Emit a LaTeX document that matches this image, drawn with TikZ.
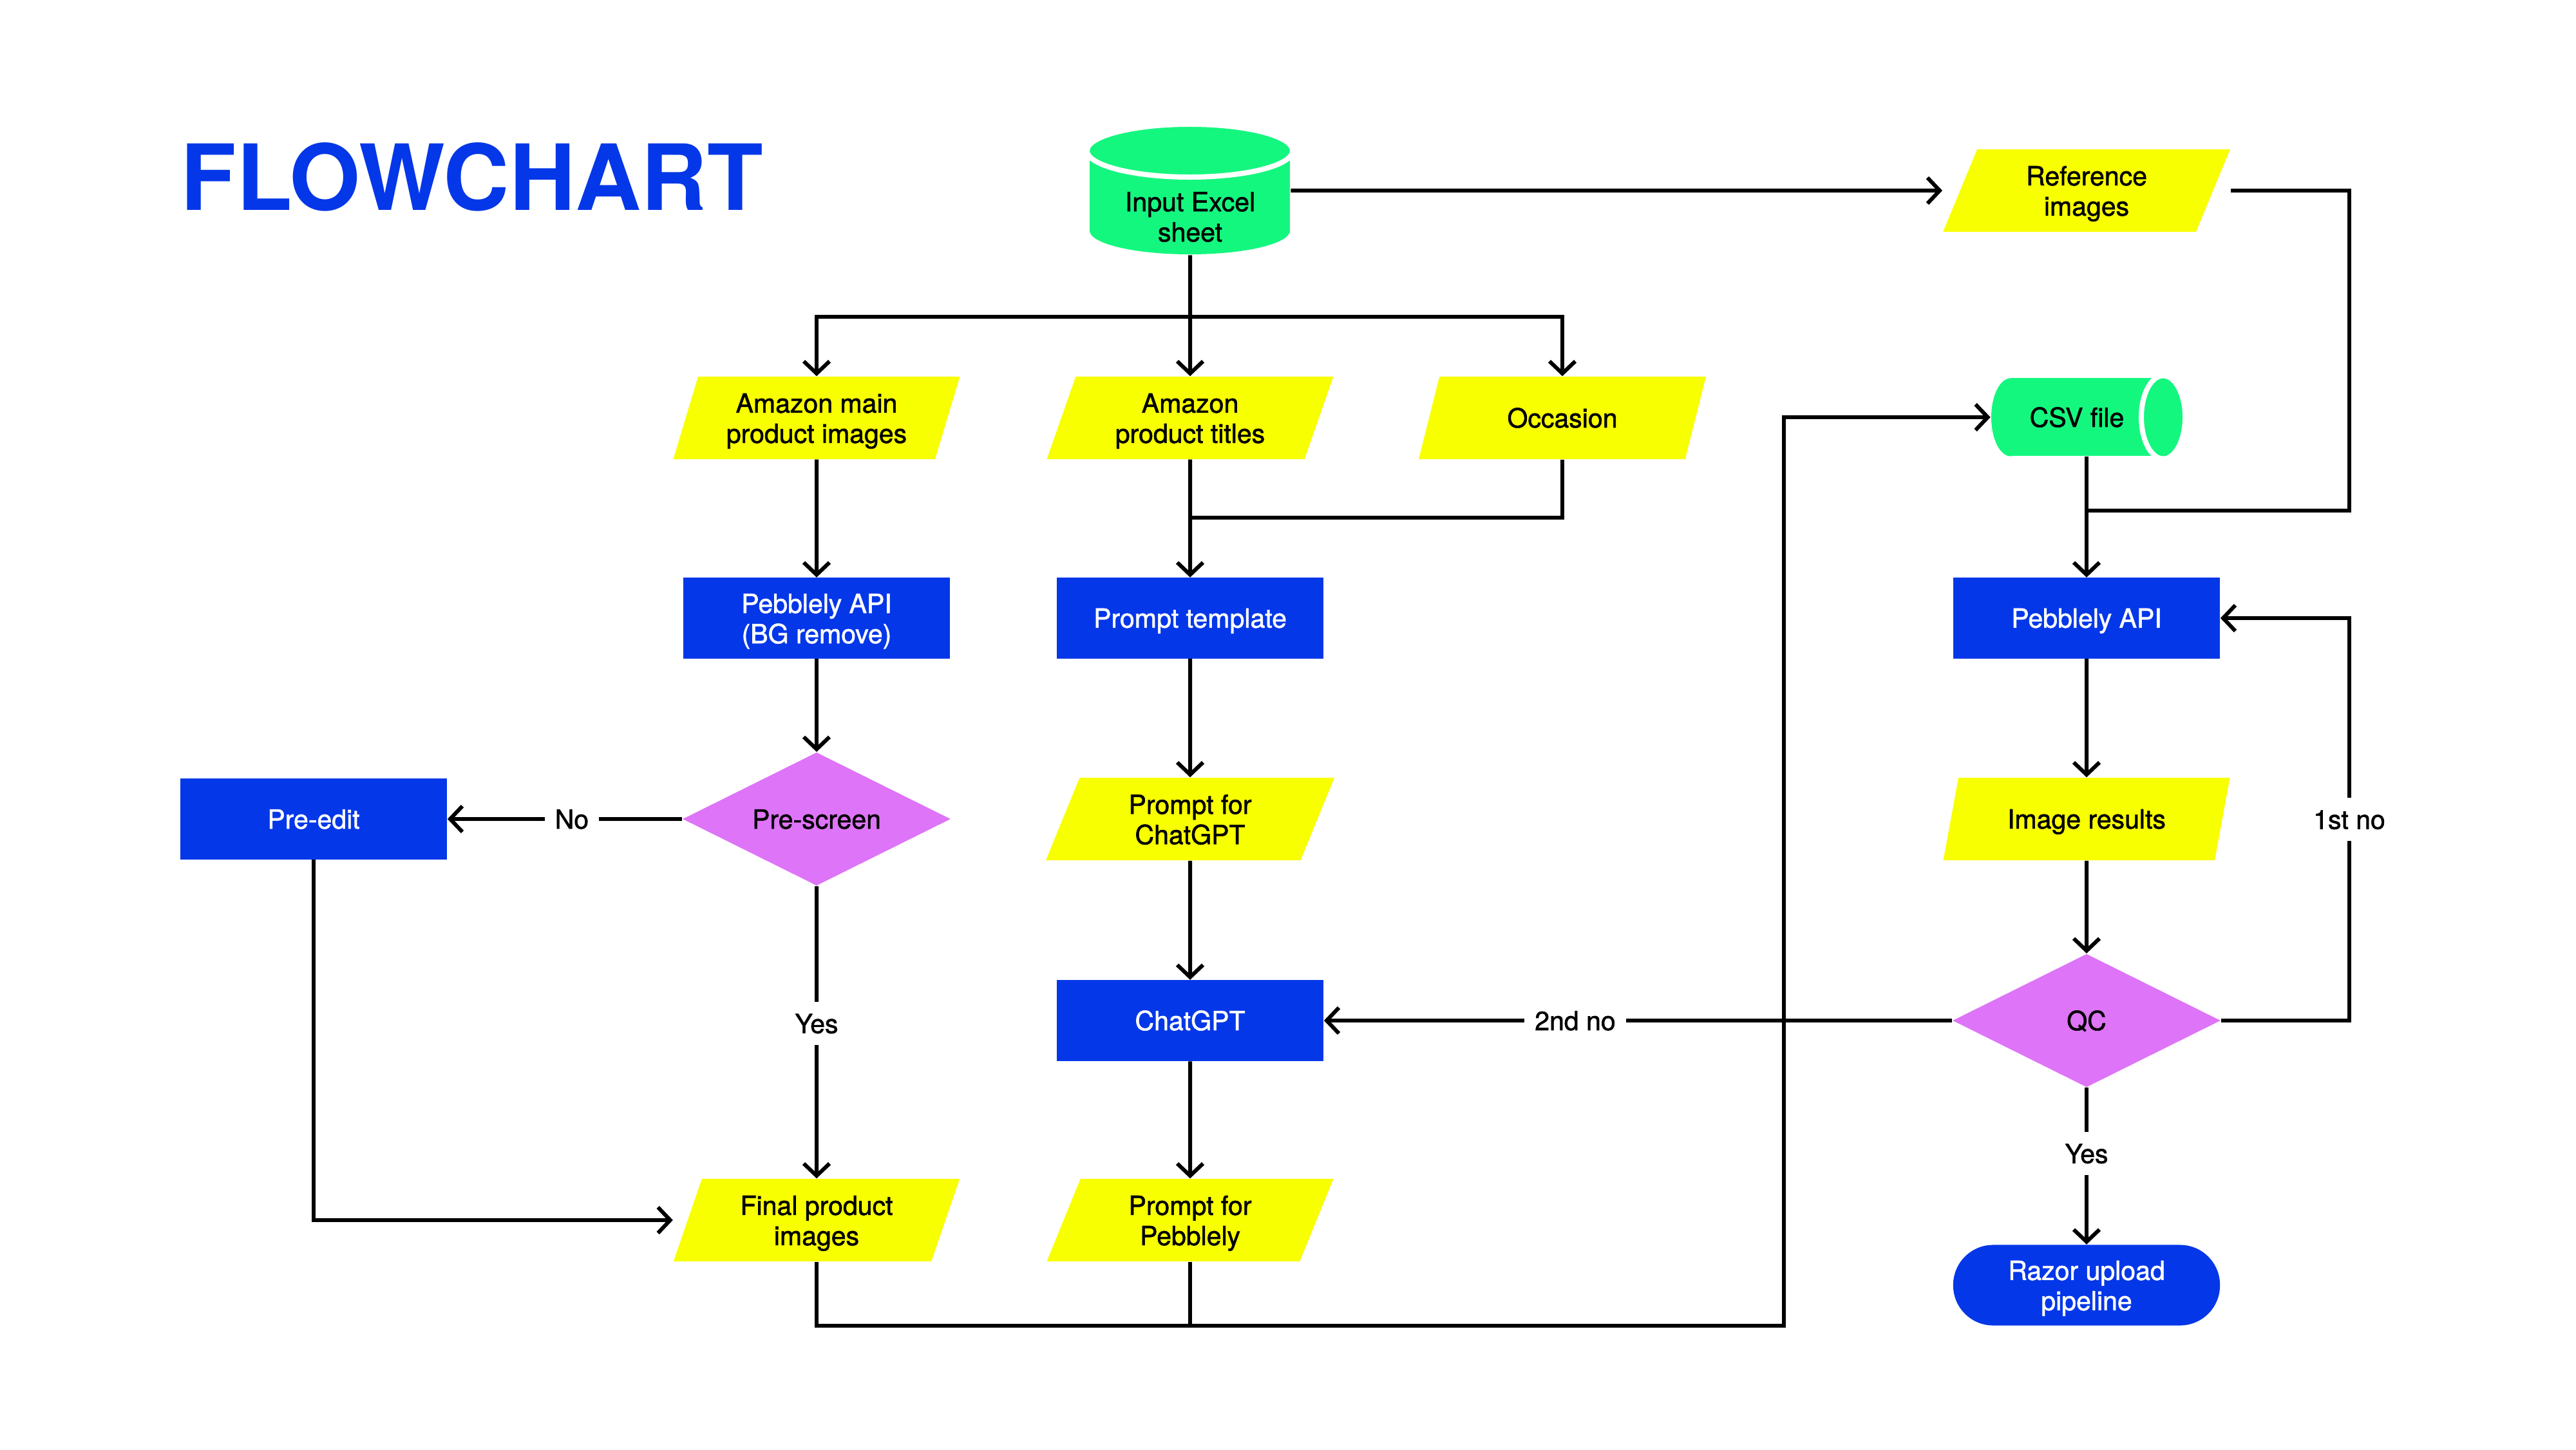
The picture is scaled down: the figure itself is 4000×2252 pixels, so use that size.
\documentclass[tikz,border=0pt]{standalone}
\usepackage{fontspec}
\setmainfont{TeX Gyre Heros}
\newfontfamily\medfont{TeX Gyre Heros}[FakeBold=1.4]
\usetikzlibrary{shapes.geometric,arrows.meta,backgrounds}
\definecolor{cblue}{HTML}{0437E8}
\definecolor{cgreen}{HTML}{14F77F}
\definecolor{cyell}{HTML}{F8FF00}
\definecolor{cpink}{HTML}{DE74F7}
\newcommand\fstrut{\rule[-0.21em]{0pt}{1.15em}}
\newcommand\mstrut{\rule{0pt}{0.97em}}
\tikzset{
  fbase/.style={font=\medfont\fontsize{11.67pt}{13.37pt}\selectfont, inner sep=0pt, align=center,
    execute at begin node=\fstrut},
  io/.style={fbase, trapezium, trapezium left angle=73, trapezium right angle=107,
    trapezium stretches=true, minimum width=4.48cm, minimum height=1.28cm, fill=cyell},
  proc/.style={fbase, rectangle, fill=cblue, text=white, minimum width=4.14cm, minimum height=1.25cm},
  decide/.style={fbase, diamond, aspect=2, fill=cpink, minimum width=4.16cm, minimum height=2.07cm},
  term/.style={proc, rounded corners=0.62cm},
  conn/.style={line width=0.06cm, -{Straight Barb[length=0.19cm,width=0.4cm]}},
  plain/.style={line width=0.06cm},
  lab/.style={fbase, fill=white, inner xsep=0.16cm, inner ysep=0.1cm},
}
\begin{document}
\begin{tikzpicture}[x=0.01cm,y=-0.01cm]
\useasboundingbox (0,0) rectangle (4000,2252);

% title
\node[anchor=base west, inner sep=0pt, text=cblue, font=\fontsize{40.3pt}{41pt}\selectfont\bfseries] (title) at (280,327) {FLOWCHART};

% nodes
\node[fbase, minimum width=3.11cm, minimum height=1.99cm] (excel) at (1848,296) {};
\node[fbase] (exceltxt) at (1848,341) {Input Excel\\sheet};
\node[io] (ref) at (3240,296) {\mstrut Reference\\images};
\node[io] (amain) at (1268,649) {\mstrut Amazon main\\product images};
\node[io] (atitles) at (1848,649) {\mstrut Amazon\\product titles};
\node[io] (occ) at (2426,649) {Occasion};
\node[fbase, minimum width=2.97cm, minimum height=1.21cm] (csv) at (3240,648) {CSV file\hspace{0.3cm}};
\node[proc] (pbg) at (1268,960) {\mstrut Pebblely API\\(BG remove)};
\node[proc] (ptpl) at (1848,960) {Prompt template};
\node[proc] (papi) at (3240,960) {Pebblely API};
\node[proc] (preedit) at (487,1272) {Pre-edit};
\node[decide] (prescreen) at (1268,1272) {Pre-screen};
\node[io] (pchat) at (1848,1272) {\mstrut Prompt for\\ChatGPT};
\node[io] (imgres) at (3240,1272) {Image results};
\node[proc] (chatgpt) at (1848,1585) {ChatGPT};
\node[decide] (qc) at (3240,1585) {QC};
\node[io] (final) at (1268,1895) {\mstrut Final product\\images};
\node[io] (ppeb) at (1848,1895) {\mstrut Prompt for\\Pebblely};
\node[term] (razor) at (3240,1996) {\mstrut Razor upload\\pipeline};

% background and cylinder shapes
\begin{scope}[on background layer]
  \fill[white] (0,0) rectangle (4000,2252);
  \fill[cgreen] (1692,234) rectangle (2003,358);
  \fill[cgreen] (1847.5,358) ellipse[x radius=1.555cm, y radius=0.37cm];
  \filldraw[fill=cgreen, draw=white, line width=0.08cm] (1847.5,234) ellipse[x radius=1.595cm, y radius=0.41cm];
  \fill[cgreen] (3122,587.5) rectangle (3359,708.5);
  \fill[cgreen] (3122,648) ellipse[x radius=0.30cm, y radius=0.605cm];
  \filldraw[fill=cgreen, draw=white, line width=0.08cm] (3359,648) ellipse[x radius=0.34cm, y radius=0.645cm];
\end{scope}

% helper coordinates
\coordinate (split) at (1848,492);
\coordinate (occj) at (1848,804);
\coordinate (rx) at (3648,0);
\coordinate (rj) at (3240,793);
\coordinate (jx) at (2770,2059);

% connectors
\draw[conn] (excel.east) -- (ref.west -| ref.bottom left corner);
\draw[conn] (excel.south) -- (atitles.north);
\draw[conn] (excel.south |- split) -| (amain.north);
\draw[conn] (excel.south |- split) -| (occ.north);
\draw[plain] (ref.east -| ref.top right corner) -- (ref.east -| rx) |- (rj);
\draw[conn] (csv.south) -- (papi.north);
\draw[conn] (amain.south) -- (pbg.north);
\draw[conn] (atitles.south) -- (ptpl.north);
\draw[plain] (occ.south) |- (occj);
\draw[conn] (pbg.south) -- (prescreen.north);
\draw[conn] (prescreen.west) -- node[lab, pos=0.47] {No} (preedit.east);
\draw[conn] (prescreen.south) -- node[lab, pos=0.47] {Yes} (final.north);
\draw[conn] (preedit.south) |- (final.west -| final.bottom left corner);
\draw[conn] (ptpl.south) -- (pchat.north);
\draw[conn] (pchat.south) -- (chatgpt.north);
\draw[conn] (chatgpt.south) -- (ppeb.north);
\draw[conn] (final.south) |- (jx) |- (csv.west);
\draw[plain] (ppeb.south) -- (ppeb.south |- jx);
\draw[conn] (papi.south) -- (imgres.north);
\draw[conn] (imgres.south) -- (qc.north);
\draw[conn] (qc.west) -- node[lab, pos=0.6] {2nd no} (chatgpt.east);
\draw[conn] (qc.east) -- (qc.east -| rx) -- node[lab] {1st no} (papi.east -| rx) -- (papi.east);
\draw[conn] (qc.south) -- node[lab, pos=0.42] {Yes} (razor.north);
\end{tikzpicture}
\end{document}
